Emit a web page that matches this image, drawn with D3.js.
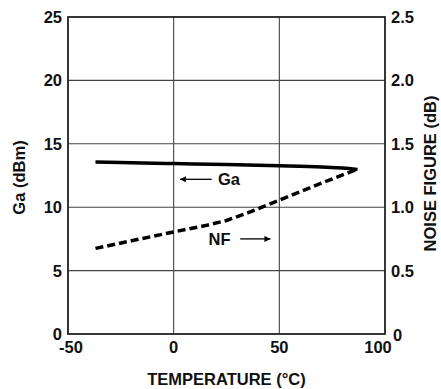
<!DOCTYPE html>
<html>
<head>
<meta charset="utf-8">
<script src="https://cdn.jsdelivr.net/npm/d3@7"></script>
<style>
  body { margin: 0; background: #fff; }
  text { font-family: "Liberation Sans", Arial, Helvetica, sans-serif; font-weight: bold; fill: #111; }
</style>
</head>
<body>
<div id="chart"></div>
<script>
  // gain (left axis) and noise figure (right axis) vs temperature
  var gaTemps = [-37, -20, 0, 25, 50, 70, 80, 87];
  var gaValues = [13.56, 13.5, 13.44, 13.37, 13.27, 13.17, 13.09, 12.98];

  var nfTemps = [-37, -20, 0, 15, 25, 35, 50, 70, 87];
  var nfValues = [0.675, 0.735, 0.805, 0.855, 0.895, 0.955, 1.055, 1.19, 1.30];

  var xTicks = [-50, 0, 50, 100];
  var gaTicks = [0, 5, 10, 15, 20, 25];
  var nfTicks = [0, 0.5, 1.0, 1.5, 2.0, 2.5];

  var width = 441;
  var height = 389;
  var margin = {top: 17, right: 56, bottom: 55, left: 68};
  var w = width - margin.left - margin.right;
  var h = height - margin.top - margin.bottom;

  var x = d3.scaleLinear().domain([-50, 100]).range([0, w]);
  var yGa = d3.scaleLinear().domain([0, 25]).range([h, 0]);
  var yNf = d3.scaleLinear().domain([0, 2.5]).range([h, 0]);

  var svg = d3.select("#chart").append("svg")
    .attr("width", width)
    .attr("height", height);

  var g = svg.append("g")
    .attr("transform", "translate(" + margin.left + "," + margin.top + ")");

  // grid
  g.selectAll(".vgrid")
    .data(xTicks.slice(1, -1))
    .enter().append("line")
    .attr("x1", function(d) { return x(d); })
    .attr("x2", function(d) { return x(d); })
    .attr("y1", 0)
    .attr("y2", h)
    .attr("stroke", "#444")
    .attr("stroke-width", 1.1);

  g.selectAll(".hgrid")
    .data(gaTicks.slice(1, -1))
    .enter().append("line")
    .attr("x1", 0)
    .attr("x2", w)
    .attr("y1", function(d) { return yGa(d); })
    .attr("y2", function(d) { return yGa(d); })
    .attr("stroke", "#444")
    .attr("stroke-width", 1.1);

  // frame
  g.append("rect")
    .attr("x", 0)
    .attr("y", 0)
    .attr("width", w)
    .attr("height", h)
    .attr("fill", "none")
    .attr("stroke", "#222")
    .attr("stroke-width", 1.8);

  // x tick labels
  g.selectAll(".xlab")
    .data(xTicks)
    .enter().append("text")
    .attr("x", function(d) { return x(d); })
    .attr("dx", function(d, i) { return i == 0 ? 3 : (i == xTicks.length - 1 ? -7 : 0); })
    .attr("y", h + 19)
    .attr("text-anchor", "middle")
    .style("font-size", "16.5px")
    .text(function(d) { return d; });

  // left tick labels
  g.selectAll(".galab")
    .data(gaTicks)
    .enter().append("text")
    .attr("x", -6)
    .attr("y", function(d) { return yGa(d) + 6; })
    .attr("text-anchor", "end")
    .style("font-size", "16.5px")
    .text(function(d) { return d; });

  // right tick labels
  g.selectAll(".nflab")
    .data(nfTicks)
    .enter().append("text")
    .attr("x", function(d) { return w + (d == 0 ? 8 : 6); })
    .attr("y", function(d) { return yNf(d) + (d == 0 ? 7 : 6); })
    .attr("text-anchor", "start")
    .style("font-size", "16.5px")
    .text(function(d) { return d == 0 ? "0" : d3.format(".1f")(d); });

  // axis titles
  svg.append("text")
    .attr("x", margin.left + w / 2)
    .attr("y", 385)
    .attr("text-anchor", "middle")
    .style("font-size", "16.5px")
    .text("TEMPERATURE (°C)");

  svg.append("text")
    .attr("transform", "translate(25," + (margin.top + h / 2 + 2) + ")rotate(-90)")
    .attr("text-anchor", "middle")
    .style("font-size", "16.5px")
    .text("Ga (dBm)");

  svg.append("text")
    .attr("transform", "translate(436," + (margin.top + h / 2 - 2) + ")rotate(-90)")
    .attr("text-anchor", "middle")
    .style("font-size", "16.5px")
    .text("NOISE FIGURE (dB)");

  // lines
  var gaLine = d3.line()
    .x(function(d, i) { return x(gaTemps[i]); })
    .y(function(d) { return yGa(d); })
    .curve(d3.curveMonotoneX);

  var nfLine = d3.line()
    .x(function(d, i) { return x(nfTemps[i]); })
    .y(function(d) { return yNf(d); });

  g.append("path")
    .attr("d", gaLine(gaValues))
    .attr("fill", "none")
    .attr("stroke", "#000")
    .attr("stroke-width", 3.5);

  g.append("path")
    .attr("d", nfLine(nfValues))
    .attr("fill", "none")
    .attr("stroke", "#000")
    .attr("stroke-width", 3.5)
    .attr("stroke-dasharray", "8,4");

  // annotations with arrows
  svg.append("defs").append("marker")
    .attr("id", "arrow")
    .attr("viewBox", "0 0 10 10")
    .attr("refX", 10)
    .attr("refY", 5)
    .attr("markerWidth", 9)
    .attr("markerHeight", 6)
    .attr("markerUnits", "userSpaceOnUse")
    .attr("orient", "auto")
    .append("path")
    .attr("d", "M0,0L10,5L0,10Z")
    .attr("fill", "#000");

  g.append("line")
    .attr("x1", x(18))
    .attr("x2", x(3))
    .attr("y1", yGa(12.2))
    .attr("y2", yGa(12.2))
    .attr("stroke", "#000")
    .attr("stroke-width", 1.3)
    .attr("marker-end", "url(#arrow)");

  g.append("text")
    .attr("x", x(21))
    .attr("y", yGa(12.2) + 6)
    .style("font-size", "16.5px")
    .text("Ga");

  g.append("text")
    .attr("x", x(16.5))
    .attr("y", yNf(0.75) + 6)
    .style("font-size", "16.5px")
    .text("NF");

  g.append("line")
    .attr("x1", x(31.5))
    .attr("x2", x(45.8))
    .attr("y1", yNf(0.75))
    .attr("y2", yNf(0.75))
    .attr("stroke", "#000")
    .attr("stroke-width", 1.3)
    .attr("marker-end", "url(#arrow)");
</script>
</body>
</html>
